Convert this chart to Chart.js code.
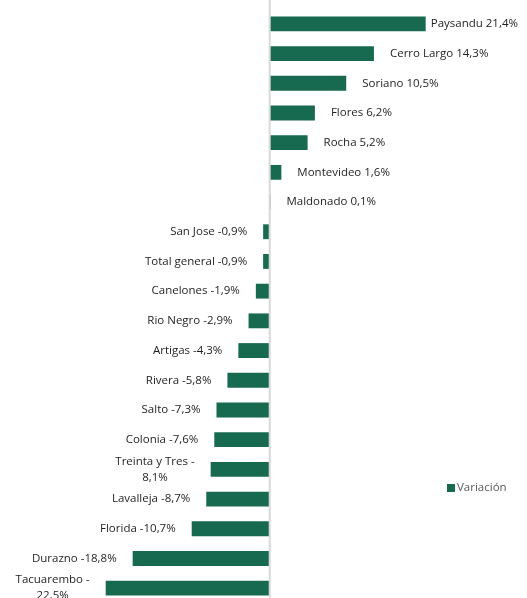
<!DOCTYPE html>
<html>
<head>
<meta charset="utf-8">
<script src="https://cdn.jsdelivr.net/npm/chart.js@4"></script>
<style>
  html, body { margin: 0; padding: 0; background: #fff; overflow: hidden; }
  #wrap { width: 527px; height: 606px; position: relative; }
</style>
</head>
<body>
<div id="wrap"><canvas id="myChart"></canvas></div>
<script>
  const categories = [
    'Paysandu', 'Cerro Largo', 'Soriano', 'Flores', 'Rocha', 'Montevideo',
    'Maldonado', 'San Jose', 'Total general', 'Canelones', 'Rio Negro',
    'Artigas', 'Rivera', 'Salto', 'Colonia', 'Treinta y Tres', 'Lavalleja',
    'Florida', 'Durazno', 'Tacuarembo'
  ];
  const values = [
    21.4, 14.3, 10.5, 6.2, 5.2, 1.6,
    0.1, -0.9, -0.9, -1.9, -2.9,
    -4.3, -5.8, -7.3, -7.6, -8.1, -8.7,
    -10.7, -18.8, -22.5
  ];
  const seriesName = 'Variación';

  const green = '#17694f';
  const labelFont = '11.5px "Open Sans", sans-serif';

  function fmt(v) {
    return v.toFixed(1).replace('.', ',') + '%';
  }

  // data labels, zero line and legend
  const barLabels = {
    id: 'barLabels',
    afterDatasetsDraw(chart) {
      const { ctx, scales: { x } } = chart;
      const x0 = x.getPixelForValue(0);
      ctx.save();
      ctx.strokeStyle = '#d9d9d9';
      ctx.lineWidth = 2;
      ctx.beginPath();
      ctx.moveTo(x0, 0);
      ctx.lineTo(x0, chart.height);
      ctx.stroke();

      const meta = chart.getDatasetMeta(0);
      ctx.font = labelFont;
      ctx.fillStyle = '#1f1f1f';
      ctx.textBaseline = 'middle';
      meta.data.forEach((bar, i) => {
        const v = values[i];
        const text = categories[i] + ' ' + fmt(v);
        const w = ctx.measureText(text).width;
        const y = bar.y;
        if (v >= 0) {
          let tx = bar.x + 16;
          if (tx + w > chart.width - 9) tx = chart.width - 9 - w;
          ctx.textAlign = 'left';
          ctx.fillText(text, tx, y);
        } else {
          const right = bar.x - 16;
          // long labels wrap after the minus sign
          if (w > 103) {
            const l1 = categories[i] + ' -';
            const l2 = fmt(Math.abs(v));
            const w1 = ctx.measureText(l1).width;
            const cx = right - w1 / 2;
            ctx.textAlign = 'center';
            ctx.fillText(l1, cx, y - 8);
            ctx.fillText(l2, cx, y + 8);
          } else {
            ctx.textAlign = 'right';
            ctx.fillText(text, right, y);
          }
        }
      });
      // legend
      ctx.fillStyle = green;
      ctx.fillRect(447, 484, 8, 8);
      ctx.fillStyle = '#595959';
      ctx.textAlign = 'left';
      ctx.fillText(seriesName, 457, 488);
      ctx.restore();
    }
  };

  const data = {
    labels: categories,
    datasets: [{
      label: seriesName,
      data: values,
      backgroundColor: green,
      borderWidth: 0,
      barPercentage: 0.5,
      categoryPercentage: 1
    }]
  };

  const config = {
    type: 'bar',
    data: data,
    options: {
      indexAxis: 'y',
      responsive: true,
      maintainAspectRatio: false,
      animation: false,
      layout: { padding: { top: 9, bottom: 3, left: 0, right: 0 } },
      scales: {
        x: { display: false, min: -37, max: 35.3 },
        y: { display: false }
      },
      plugins: {
        legend: { display: false },
        tooltip: { enabled: false }
      }
    },
    plugins: [barLabels]
  };

  const chart = new Chart(document.getElementById('myChart'), config);
</script>
</body>
</html>
